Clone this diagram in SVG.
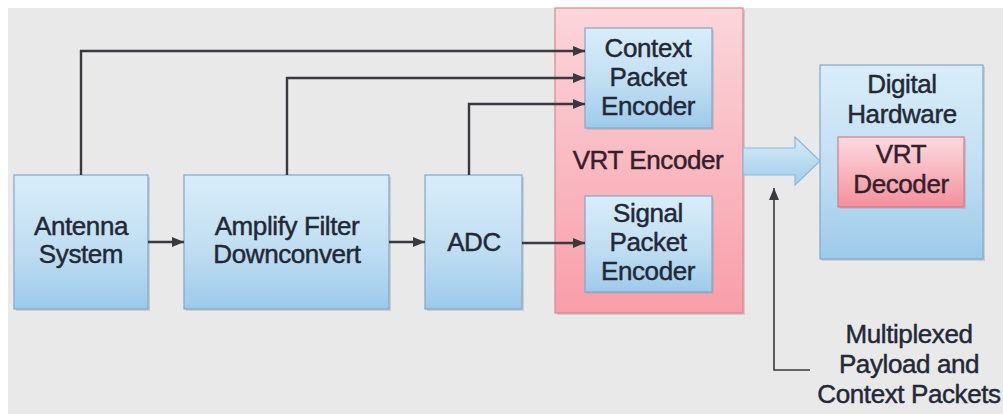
<svg xmlns="http://www.w3.org/2000/svg" width="1003" height="414" viewBox="0 0 1003 414">
  <defs>
    <linearGradient id="gBlue" x1="0" y1="0" x2="0" y2="1">
      <stop offset="0" stop-color="#d9edf9"/>
      <stop offset="0.55" stop-color="#c0def2"/>
      <stop offset="1" stop-color="#9dcaea"/>
    </linearGradient>
    <linearGradient id="gRed" x1="0" y1="0" x2="0" y2="1">
      <stop offset="0" stop-color="#fbd6db"/>
      <stop offset="1" stop-color="#f89ea9"/>
    </linearGradient>
    <linearGradient id="gDec" x1="0" y1="0" x2="0" y2="1">
      <stop offset="0" stop-color="#fcdbe0"/>
      <stop offset="1" stop-color="#f4909c"/>
    </linearGradient>
    <linearGradient id="gArrow" x1="0" y1="0" x2="0" y2="1">
      <stop offset="0" stop-color="#d6ebf8"/>
      <stop offset="1" stop-color="#a3cce9"/>
    </linearGradient>
    <marker id="head" viewBox="0 0 12 10" refX="12" refY="5" markerWidth="12" markerHeight="10" orient="auto" markerUnits="userSpaceOnUse">
      <path d="M0,0 L12,5 L0,10 Z" fill="#3a3a3e"/>
    </marker>
    <style>
      .box { fill: url(#gBlue); stroke: #7fa9c6; stroke-width: 1.2; }
      .enc { fill: url(#gRed); stroke: #d98792; stroke-width: 1.2; }
      .dec { fill: url(#gDec); stroke: #d77884; stroke-width: 1.2; }
      .shadow { fill: #9a9aa0; opacity: 0.35; }
      .lbl { font-family: "Liberation Sans", Arial, sans-serif; font-size: 26px; fill: #232836; stroke: #232836; stroke-width: 0.45px; text-anchor: middle; letter-spacing: -0.4px; }
      .lblr { fill: #35202a; stroke: #35202a; }
      .wire { fill: none; stroke: #3a3a3e; stroke-width: 2.4; }
      .thin { fill: none; stroke: #3a3a3e; stroke-width: 1.6; }
    </style>
  </defs>

  <!-- page background -->
  <rect x="0" y="0" width="1003" height="414" fill="#ffffff"/>
  <rect x="8" y="8" width="995" height="406" fill="#e9e9ea"/>

  <g id="antenna">
    <rect class="shadow" x="16" y="177" width="134" height="134"/>
    <rect class="box" x="14" y="175" width="134" height="134"/>
    <text class="lbl" x="81" y="235">Antenna</text>
    <text class="lbl" x="81" y="263">System</text>
  </g>

  <g id="amplify">
    <rect class="shadow" x="186" y="177" width="205" height="134"/>
    <rect class="box" x="184" y="175" width="205" height="134"/>
    <text class="lbl" x="287" y="235">Amplify Filter</text>
    <text class="lbl" x="287" y="263">Downconvert</text>
  </g>

  <g id="adc">
    <rect class="shadow" x="427" y="177" width="97" height="134"/>
    <rect class="box" x="425" y="175" width="97" height="134"/>
    <text class="lbl" x="474" y="251">ADC</text>
  </g>

  <g id="vrt-encoder">
    <rect class="shadow" x="557" y="10" width="188" height="305"/>
    <rect class="enc" x="555" y="8" width="188" height="305"/>
    <text class="lbl lblr" x="648" y="169">VRT Encoder</text>
  </g>

  <g id="context-encoder">
    <rect class="shadow" x="587" y="30" width="127" height="100"/>
    <rect class="box" x="585" y="28" width="127" height="100"/>
    <text class="lbl" x="648" y="57">Context</text>
    <text class="lbl" x="648" y="86">Packet</text>
    <text class="lbl" x="648" y="115">Encoder</text>
  </g>

  <g id="signal-encoder">
    <rect class="shadow" x="587" y="198" width="127" height="96"/>
    <rect class="box" x="585" y="196" width="127" height="96"/>
    <text class="lbl" x="648" y="222">Signal</text>
    <text class="lbl" x="648" y="251">Packet</text>
    <text class="lbl" x="648" y="280">Encoder</text>
  </g>

  <g id="digital-hardware">
    <rect class="shadow" x="822" y="67" width="163" height="194"/>
    <rect class="box" x="820" y="65" width="163" height="194"/>
    <text class="lbl" x="902" y="93">Digital</text>
    <text class="lbl" x="902" y="123">Hardware</text>
  </g>

  <g id="vrt-decoder">
    <rect class="shadow" x="840" y="139" width="126" height="70"/>
    <rect class="dec" x="838" y="137" width="126" height="70"/>
    <text class="lbl lblr" x="901" y="163">VRT</text>
    <text class="lbl lblr" x="901" y="193">Decoder</text>
  </g>

  <g id="mux-label">
    <text class="lbl" x="909" y="343">Multiplexed</text>
    <text class="lbl" x="909" y="373">Payload and</text>
    <text class="lbl" x="909" y="403">Context Packets</text>
  </g>

  <!-- connectors, drawn last so the arrowheads sit on top of the encoder box -->
  <g id="connectors">
    <path class="wire" d="M81,175 V51 H585" marker-end="url(#head)"/>
    <path class="wire" d="M287,175 V78 H585" marker-end="url(#head)"/>
    <path class="wire" d="M469,175 V104 H585" marker-end="url(#head)"/>
    <path class="wire" d="M148,242 H184" marker-end="url(#head)"/>
    <path class="wire" d="M389,242 H425" marker-end="url(#head)"/>
    <path class="wire" d="M522,243 H585" marker-end="url(#head)"/>
    <path class="thin" d="M810,370 H774 V188" marker-end="url(#head)"/>
    <!-- output block arrow -->
    <path d="M743,148 H795 V137 L820,161 L795,185 V175 H743 Z" fill="url(#gArrow)" stroke="#8bb9d9" stroke-width="1.2"/>
  </g>
</svg>
